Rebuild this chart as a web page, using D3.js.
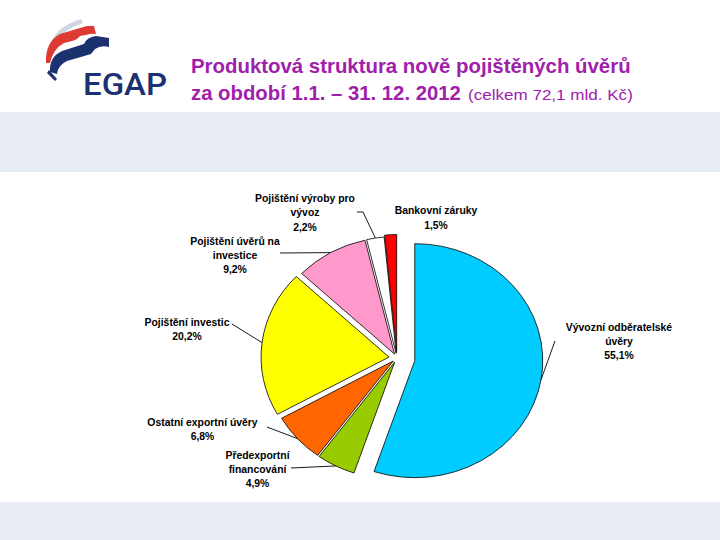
<!DOCTYPE html>
<html>
<head>
<meta charset="utf-8">
<script src="https://cdn.jsdelivr.net/npm/d3@7/dist/d3.min.js"></script>
<style>
  html, body { margin: 0; padding: 0; background: #ffffff; }
  svg { display: block; }
</style>
</head>
<body>
<svg id="chart" width="720" height="540"></svg>
<script>
// ---------- DATA ----------
const categories = [
  "Vývozní odběratelské úvěry",
  "Předexportní financování",
  "Ostatní exportní úvěry",
  "Pojištění investic",
  "Pojištění úvěrů na investice",
  "Pojištění výroby pro vývoz",
  "Bankovní záruky"
];
const values = [55.1, 4.9, 6.8, 20.2, 9.2, 2.2, 1.5];
const labelLines = [
  ["Vývozní odběratelské", "úvěry"],
  ["Předexportní", "financování"],
  ["Ostatní exportní úvěry"],
  ["Pojištění investic"],
  ["Pojištění úvěrů na", "investice"],
  ["Pojištění výroby pro", "vývoz"],
  ["Bankovní záruky"]
];
const titleLine1 = "Produktová struktura nově pojištěných úvěrů";
const titleLine2 = "za období 1.1. – 31. 12. 2012";
const titleNote = "(celkem 72,1 mld. Kč)";

// ---------- STYLE / LAYOUT ----------
const colors = ["#00ccff", "#99cc00", "#ff6600", "#ffff00", "#ff99cc", "#ffffff", "#ff0000"];
const explode = [18, 5, 5, 8, 5, 5, 7];
const labelPos = [
  {x: 619, y: 330.5}, {x: 257.5, y: 458.5}, {x: 202.5, y: 425.5}, {x: 187, y: 325.5},
  {x: 235, y: 244.5}, {x: 305, y: 202}, {x: 436, y: 214.3}
];
const leaderStart = [
  [[555, 341]], [[291, 468]], [[267, 427]], [[232, 324]],
  [[280, 253]], [[357, 212], [363, 212]], null
];
const cx = 397, cy = 358, R = 128, K = 117 / 128;
const lineH = 14.4;

const svg = d3.select("#chart");

// background bands
svg.append("rect").attr("x", 0).attr("y", 112).attr("width", 720).attr("height", 60).attr("fill", "#e8ecf5");
svg.append("rect").attr("x", 0).attr("y", 502).attr("width", 720).attr("height", 38).attr("fill", "#e8ecf5");

// ---------- LOGO ----------
const logo = svg.append("g");
logo.append("path").attr("d", "M51,46 Q53,28 81,19 L83,23 Q61,30 54,46 Z").attr("fill", "#cdd6e1");
logo.append("path").attr("d", "M46,63 Q45,42 60,34 L80,28 Q89,25 94,26 L96,34 Q91,33 86,35 L80,36 Q77,40 72,41 L64,43 Q53,49 50,63 Z").attr("fill", "#dc3a32");
logo.append("path").attr("d", "M50,72 Q49,57 62,51 L84,44 Q87,37 96,36 L109,38 L109,47 Q101,45 95,49 L91,54 L67,61 Q58,65 57,74 Z").attr("fill", "#1c3170");
logo.append("path").attr("d", "M49,70 L57,79 L55,81 L47,73 Z").attr("fill", "#1c3170");

function fitText(parent, txt, x, y, size, weight, fill, targetW, family) {
  const t = parent.append("text")
    .attr("x", 0).attr("y", 0)
    .attr("font-family", family || "'Liberation Sans', Arial, sans-serif")
    .attr("font-size", size).attr("font-weight", weight)
    .attr("fill", fill).text(txt);
  const L = t.node().getComputedTextLength();
  t.attr("transform", `translate(${x},${y}) scale(${targetW / L},1)`);
  return t;
}
fitText(svg, "EGAP", 83, 95, 31, 500, "#1c3170", 84, "Roboto, 'DejaVu Sans', sans-serif");

// ---------- TITLE ----------
const titleColor = "#a020ac";
fitText(svg, titleLine1, 191, 73, 21, 700, titleColor, 440);
fitText(svg, titleLine2, 191, 100, 21, 700, titleColor, 270);
fitText(svg, titleNote, 468, 100, 15, 400, titleColor, 165);

// ---------- PIE ----------
const pie = d3.pie().sort(null).value(d => d)(values);
const arc = d3.arc().innerRadius(0).outerRadius(R);
const mid = d => (d.startAngle + d.endAngle) / 2;

const g = svg.append("g").attr("transform", `translate(${cx},${cy}) scale(1,${K})`);
g.selectAll("path.slice").data(pie).enter().append("path")
  .attr("class", "slice")
  .attr("transform", (d, i) => {
    const a = mid(d);
    return `translate(${Math.sin(a) * explode[i]},${-Math.cos(a) * explode[i]})`;
  })
  .attr("d", arc)
  .attr("fill", (d, i) => colors[i])
  .attr("stroke", "#000")
  .attr("stroke-width", 0.8)
  .attr("vector-effect", "non-scaling-stroke")
  .attr("stroke-linejoin", "round");

// leader lines
const fmt = v => d3.format(".1f")(v).replace(".", ",") + "%";
pie.forEach((d, i) => {
  if (!leaderStart[i]) return;
  const a = mid(d);
  const rr = R + explode[i];
  const end = [cx + Math.sin(a) * rr, cy - Math.cos(a) * rr * K];
  const pts = leaderStart[i].concat([end]);
  svg.append("path")
    .attr("d", d3.line()(pts))
    .attr("fill", "none").attr("stroke", "#000").attr("stroke-width", 0.9);
});

// labels
pie.forEach((d, i) => {
  const lines = labelLines[i].concat([fmt(values[i])]);
  const t = svg.append("text")
    .attr("font-family", "'Liberation Sans', Arial, sans-serif")
    .attr("font-size", 10.4).attr("font-weight", 700)
    .attr("fill", "#000").attr("text-anchor", "middle");
  lines.forEach((ln, j) => {
    t.append("tspan").attr("x", labelPos[i].x).attr("y", labelPos[i].y + j * lineH).text(ln);
  });
});
</script>
</body>
</html>
